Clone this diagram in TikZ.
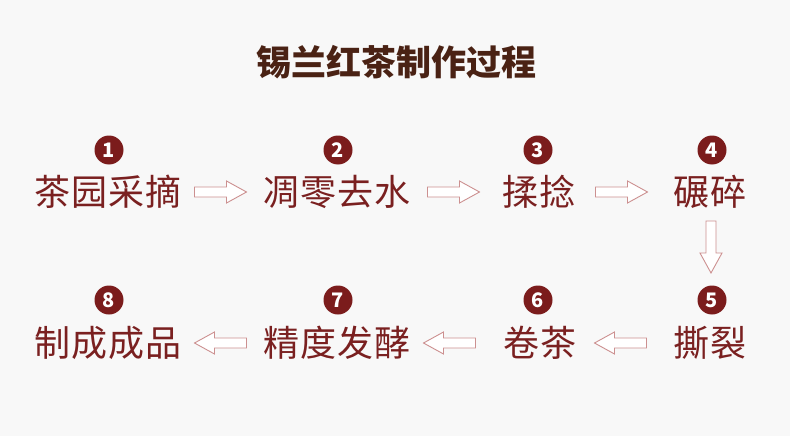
\documentclass[tikz,border=0pt]{standalone}
\usepackage{fontspec}
\setmainfont{Noto Sans CJK SC}
\definecolor{bgc}{HTML}{F8F8F8}
\definecolor{titlec}{HTML}{4A2214}
\definecolor{numc}{HTML}{7B1C1C}
\definecolor{itemc}{HTML}{7A2020}
\definecolor{arrc}{HTML}{CC9090}
\tikzset{
  numdot/.style={circle, fill=numc, text=white, minimum size=29pt, inner sep=0pt, font=\fontsize{20}{20}\selectfont\bfseries},
  item/.style={text=itemc, inner sep=0pt, font=\fontsize{36}{36}\selectfont\addfontfeature{LetterSpace=3}},
  blockarrow/.pic={\draw[draw=arrc, line width=0.9pt, fill=white]
     (-26,-5) -- (6,-5) -- (6,-11) -- (26,0) -- (6,11) -- (6,5) -- (-26,5) -- cycle;},
}
\begin{document}
\begin{tikzpicture}[x=1pt,y=-1pt]
\fill[bgc] (0,0) rectangle (790,436);
\useasboundingbox (0,0) rectangle (790,436);
\node[text=titlec, font=\fontsize{35}{35}\selectfont\bfseries] (title) at (396,62) {锡兰红茶制作过程};
% numbers
\node[numdot] (n1) at (109,150) {1};
\node[numdot] (n2) at (338,150) {2};
\node[numdot] (n3) at (538,150) {3};
\node[numdot] (n4) at (712,150) {4};
\node[numdot] (n8) at (109,300) {8};
\node[numdot] (n7) at (338,300) {7};
\node[numdot] (n6) at (538,300) {6};
\node[numdot] (n5) at (712,300) {5};
% items
\node[item] (s1) at (108,192) {茶园采摘};
\node[item] (s2) at (337,192) {凋零去水};
\node[item] (s3) at (539,192) {揉捻};
\node[item] (s4) at (710,192) {碾碎};
\node[item] (s5) at (710,343) {撕裂};
\node[item] (s6) at (540,343) {卷茶};
\node[item] (s7) at (337,343) {精度发酵};
\node[item] (s8) at (108,343) {制成成品};
% arrows
\coordinate (a12) at (220.5,192);
\coordinate (a23) at (453.5,192);
\coordinate (a34) at (621.5,192);
\coordinate (a45) at (711,247);
\coordinate (a56) at (620.5,343);
\coordinate (a67) at (449.5,343);
\coordinate (a78) at (220.5,343);
\pic at (a12) {blockarrow};
\pic at (a23) {blockarrow};
\pic at (a34) {blockarrow};
\pic[rotate=-90] at (a45) {blockarrow};
\pic[rotate=180] at (a56) {blockarrow};
\pic[rotate=180] at (a67) {blockarrow};
\pic[rotate=180] at (a78) {blockarrow};
\end{tikzpicture}
\end{document}
